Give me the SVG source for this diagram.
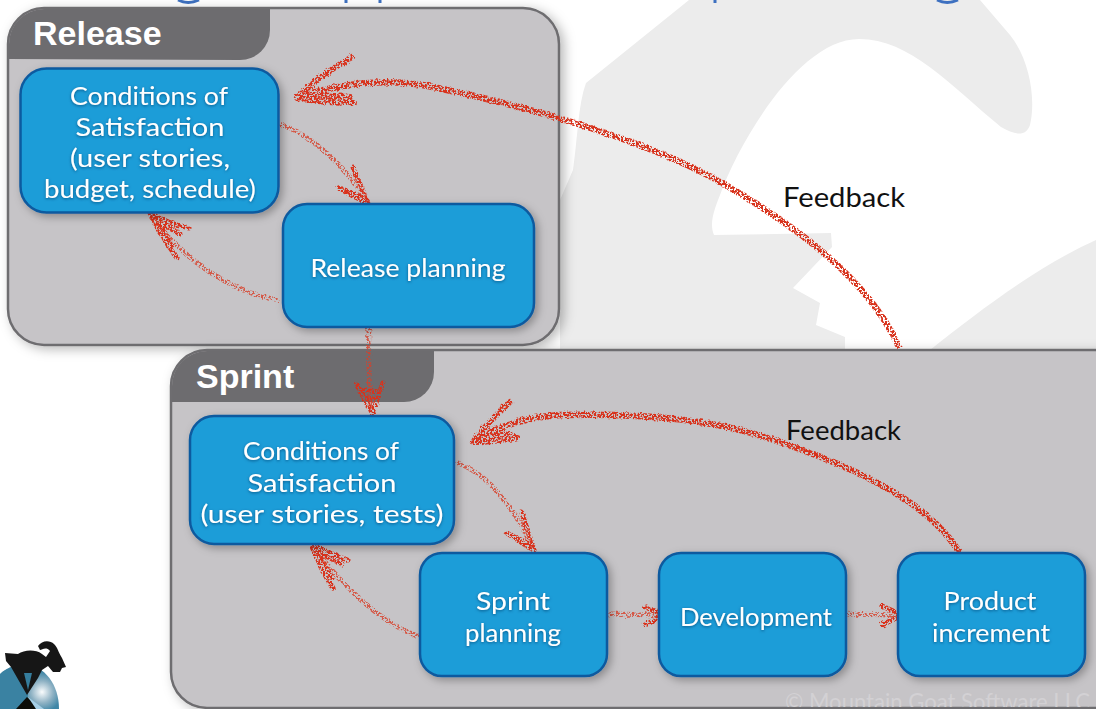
<svg xmlns="http://www.w3.org/2000/svg" width="1096" height="709" viewBox="0 0 1096 709">
<style>
.panel{fill:#c6c4c7;stroke:#6e6d70;stroke-width:2.5;filter:url(#panelShadow)}
.tab{fill:#6d6c6f}
.tabtext{font-family:"Liberation Sans",Arial,sans-serif;font-weight:bold;font-size:34px;fill:#fff}
.box{fill:#1c9dd8;stroke:#0e5a9f;stroke-width:2.5;filter:url(#boxShadow)}
.label{font-family:Lato,"Noto Sans",sans-serif;font-size:25.5px;fill:#fff;text-anchor:middle;filter:url(#textGlow)}
.fb{font-family:Lato,"Noto Sans",sans-serif;font-size:27px;fill:#111}
.thick{fill:none;stroke:#d8301a;stroke-width:6.500;stroke-linecap:round;stroke-linejoin:round;filter:url(#chalk)}
.thin{fill:none;stroke:#d8402a;stroke-width:5;stroke-linecap:round;stroke-linejoin:round;filter:url(#chalkThin);opacity:.8}
.head{fill:none;stroke:#d9301a;stroke-width:6;stroke-linecap:round;stroke-linejoin:round;filter:url(#chalk)}
.head2{fill:none;stroke:#d9301a;stroke-width:5;stroke-linecap:round;stroke-linejoin:round;filter:url(#chalk)}
.wm{fill:#ececec}
.crumb{fill:none;stroke:#3d70c0;stroke-width:3}
</style>
<defs>
<filter id="panelShadow" filterUnits="userSpaceOnUse" x="0" y="0" width="1096" height="709"><feDropShadow dx="4" dy="3" stdDeviation="6" flood-color="#000" flood-opacity=".28"/></filter>
<filter id="boxShadow" filterUnits="userSpaceOnUse" x="0" y="0" width="1096" height="709"><feDropShadow dx="3" dy="3" stdDeviation="4" flood-color="#000" flood-opacity=".3"/></filter>
<filter id="textGlow" filterUnits="userSpaceOnUse" x="0" y="0" width="1096" height="709"><feDropShadow dx="0" dy="1" stdDeviation="1.5" flood-color="#063f70" flood-opacity=".75"/></filter>
<filter id="chalk" filterUnits="userSpaceOnUse" x="0" y="0" width="1096" height="709"><feTurbulence type="fractalNoise" baseFrequency=".25" numOctaves="2" seed="4" result="n"/><feDisplacementMap in="SourceGraphic" in2="n" scale="4" result="d"/><feTurbulence type="fractalNoise" baseFrequency=".55" numOctaves="2" seed="9"/><feColorMatrix type="matrix" values="0 0 0 0 0 0 0 0 0 0 0 0 0 0 0 0 0 0 10 -4.200" result="m"/><feComposite in="d" in2="m" operator="in"/><feGaussianBlur stdDeviation=".4"/></filter>
<filter id="chalkThin" filterUnits="userSpaceOnUse" x="0" y="0" width="1096" height="709"><feTurbulence type="fractalNoise" baseFrequency=".25" numOctaves="2" seed="7" result="n"/><feDisplacementMap in="SourceGraphic" in2="n" scale="4" result="d"/><feTurbulence type="fractalNoise" baseFrequency=".55" numOctaves="2" seed="3"/><feColorMatrix type="matrix" values="0 0 0 0 0 0 0 0 0 0 0 0 0 0 0 0 0 0 10 -4.700" result="m"/><feComposite in="d" in2="m" operator="in"/><feGaussianBlur stdDeviation=".45"/></filter>
<radialGradient id="sphere" gradientUnits="userSpaceOnUse" cx="42" cy="692" r="20"><stop offset="0" stop-color="#fafcfd"/><stop offset=".55" stop-color="#8fb2c4"/><stop offset="1" stop-color="#3f86a6"/></radialGradient>
<clipPath id="sprintClip"><rect x="171" y="350" width="960" height="357" rx="36"/></clipPath>
</defs>
<rect width="1096" height="709" fill="#fff"/>
<g id="watermark">
<path class="wm" d="M689,0 L586,83 C578,105 578,135 573,170 L560,200 L560,350 L845,350 L845,337 L816,325 L820,303 L793,288 L832,247 L831,233 L714,235 C710,225 712,215 720,195 C740,140 800,39 859,39 C910,39 950,85 1001,127 C1015,135 1026,137 1030,125 C1036,100 1030,60 1010,35 L980,0 Z"/>
<path class="wm" d="M930,350 C980,310 1040,265 1096,240 L1096,350 Z"/>
</g>
<g id="title-fragments">
<path class="crumb" d="M178,0 Q188,5 199,0"/>
<path class="crumb" d="M346,0 V3 M380,0 V3 M715,0 V3"/>
<path class="crumb" d="M937,0 Q947,5 958,0"/>
</g>
<g id="release-panel">
<rect class="panel" x="8" y="8" width="551" height="337" rx="36"/>
<path class="tab" d="M9,59 V44 A35,35 0 0 1 44,9 H270 V30 A30,30 0 0 1 240,60 Z"/>
<text class="tabtext" x="33" y="45">Release</text>
</g>
<g id="sprint-panel">
<rect class="panel" x="171" y="350" width="960" height="358" rx="36"/>
<path class="tab" d="M172,402 V386 A35,35 0 0 1 207,351 H434 V372 A30,30 0 0 1 404,402 Z"/>
<text class="tabtext" x="196" y="388">Sprint</text>
<text clip-path="url(#sprintClip)" x="785" y="710" font-family="Lato, sans-serif" font-size="24" fill="#d3d1d4" textLength="305" lengthAdjust="spacingAndGlyphs">© Mountain Goat Software LLC</text>
</g>
<g id="connectors">
<path class="thick" d="M898,345 C868,280 800,228 717,180 C640,138 520,104 428,86 C385,78 340,84 298,97"/>
<path class="head" d="M352,57 Q320,75 297,98 Q325,103 354,103 M300,94 Q325,96 350,97"/>
<path class="thin" d="M282,125 C310,135 345,165 366,200"/>
<path class="head2" d="M353,167 Q360,185 368,203 Q352,196 339,188 M345,190 L365,198"/>
<path class="thin" d="M276,300 C230,290 190,265 152,218"/>
<path class="head2" d="M189,228 Q168,224 150,213 Q162,238 177,258 M154,217 L172,245 M156,220 L180,234"/>
<path class="thin" d="M369,325 C368,350 369,385 371,410"/>
<path class="head2" d="M357,385 Q365,400 372,413 Q378,398 383,383 M365,390 L378,392 M368,398 L376,400"/>
<path class="thick" d="M958,550 C935,515 890,480 783,443 C720,420 650,413 560,415 C530,417 500,425 476,441"/>
<path class="head" d="M510,402 Q490,420 473,442 Q495,442 517,437 M478,438 L510,434"/>
<path class="thin" d="M458,463 C490,475 515,510 532,546"/>
<path class="head2" d="M522,513 Q528,532 534,550 Q520,542 507,533 M512,536 L530,544"/>
<path class="thin" d="M418,636 C385,625 345,590 314,548"/>
<path class="head2" d="M348,560 Q328,553 311,544 Q320,568 333,588 M316,550 L332,578 M318,552 L342,564"/>
<path class="thin" d="M607,614 L662,615"/>
<path class="head2" d="M645,607 L665,615 L645,625"/>
<path class="thin" d="M844,614 L899,615"/>
<path class="head2" d="M882,606 L902,615 L882,625"/>
</g>
<g id="release-conditions">
<rect class="box" x="20.500" y="68.500" width="258" height="144" rx="26"/>
<text class="label"><tspan x="149" y="105" textLength="158" lengthAdjust="spacingAndGlyphs">Conditions of</tspan><tspan x="150" y="136" textLength="149" lengthAdjust="spacingAndGlyphs">Satisfaction</tspan><tspan x="150" y="167" textLength="160" lengthAdjust="spacingAndGlyphs">(user stories,</tspan><tspan x="150" y="198" textLength="212" lengthAdjust="spacingAndGlyphs">budget, schedule)</tspan></text>
</g>
<g id="release-planning">
<rect class="box" x="283" y="204" width="251" height="123" rx="24"/>
<text class="label" x="408" y="277" textLength="195" lengthAdjust="spacingAndGlyphs">Release planning</text>
</g>
<g id="sprint-conditions">
<rect class="box" x="190" y="416" width="264" height="128" rx="24"/>
<text class="label"><tspan x="321" y="460" textLength="156" lengthAdjust="spacingAndGlyphs">Conditions of</tspan><tspan x="322" y="492" textLength="149" lengthAdjust="spacingAndGlyphs">Satisfaction</tspan><tspan x="322" y="523" textLength="243" lengthAdjust="spacingAndGlyphs">(user stories, tests)</tspan></text>
</g>
<g id="sprint-planning">
<rect class="box" x="420" y="553" width="187" height="123" rx="22"/>
<text class="label"><tspan x="513" y="610" textLength="74" lengthAdjust="spacingAndGlyphs">Sprint</tspan><tspan x="513" y="642" textLength="96" lengthAdjust="spacingAndGlyphs">planning</tspan></text>
</g>
<g id="development">
<rect class="box" x="659" y="553" width="187" height="123" rx="22"/>
<text class="label" x="756" y="626" textLength="152" lengthAdjust="spacingAndGlyphs">Development</text>
</g>
<g id="product-increment">
<rect class="box" x="898" y="553" width="187" height="123" rx="22"/>
<text class="label"><tspan x="990" y="610" textLength="93" lengthAdjust="spacingAndGlyphs">Product</tspan><tspan x="991" y="642" textLength="118" lengthAdjust="spacingAndGlyphs">increment</tspan></text>
</g>
<g id="labels">
<text class="fb" x="783" y="207" textLength="122" lengthAdjust="spacingAndGlyphs">Feedback</text>
<text class="fb" x="786" y="440" textLength="115" lengthAdjust="spacingAndGlyphs">Feedback</text>
</g>
<g id="logo">
<path d="M-12,709 C-14,680 5,665 24,665 C45,665 59,685 59,709 Z" fill="url(#sphere)"/>
<path d="M-12,709 C-14,680 5,665 22,665 L28,695 L26,709 Z" fill="#3a82a2"/>
<path d="M27,697 L40,709 L16,709 Z" fill="#0b0d08"/>
<path d="M28,697 L36,709 L44,709 Z" fill="#a5cfe6"/>
<path d="M5,653 L6,661 L11,667 L27,695 L38,678 L42,670 L48,666 L53,672 L60,672 L62,668 L66,667 L62,658 C58,652 58,648 54,644 C50,640 42,640 38,646 L40,650 C42,650 46,646 50,651 L46,657 L42,654 C35,649 24,650 18,654 Z" fill="#161616"/>
<path d="M24,673 L32,673 L28,690 Z" fill="#357d9d"/>
</g>
</svg>
